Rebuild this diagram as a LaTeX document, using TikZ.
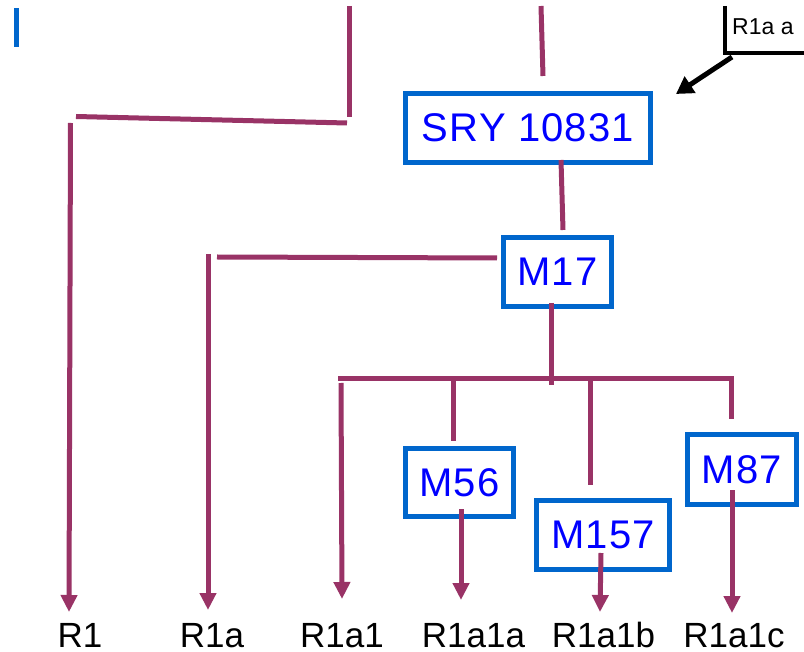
\documentclass[tikz,border=0pt]{standalone}
\usepackage{fontspec}
\setmainfont{Liberation Sans}
\newfontfamily\boxfont[LetterSpace=3]{Liberation Sans}
\usetikzlibrary{arrows.meta}
\definecolor{plum}{HTML}{993366}
\definecolor{boxblue}{HTML}{0066CC}
\definecolor{txtblue}{HTML}{0000FF}
\begin{document}
\begin{tikzpicture}[x=1pt,y=-1pt,
  mbox/.style={draw=boxblue, line width=5pt, fill=white, text=txtblue,
    font=\boxfont\fontsize{40}{46}\selectfont, inner sep=0pt, anchor=center},
  conn/.style={draw=plum, line width=5pt},
  arr/.style={conn, -{Triangle[width=16pt,length=17pt]}},
  lab/.style={font=\fontsize{35}{40}\selectfont, inner sep=0pt, anchor=base},
  blk/.style={draw=black, line width=5pt}]
\useasboundingbox (0,0) rectangle (804,652);
\clip (0,0) rectangle (804,652);

% blue bar at left
\fill[boxblue] (14,8) rectangle (19,47);

% boxes
\node[mbox, minimum width=245pt, minimum height=69pt] (sry) at (528,128) {SRY 10831};
\node[mbox, minimum width=108pt, minimum height=69pt] (m17) at (557.5,272) {M17};
\node[mbox, minimum width=108pt, minimum height=68pt] (m56) at (459.5,482.5) {M56};
\node[mbox, minimum width=133pt, minimum height=69pt] (m157) at (603,535) {M157};
\node[mbox, minimum width=109pt, minimum height=70pt] (m87) at (742,469.5) {M87};

% labels
\node[lab] (r1) at (80,647) {R1};
\node[lab] (r1a) at (212,647) {R1a};
\node[lab] (r1a1) at (342,647) {R1a1};
\node[lab] (r1a1a) at (473.5,647) {R1a1a};
\node[lab] (r1a1b) at (603.5,647) {R1a1b};
\node[lab] (r1a1c) at (734,647) {R1a1c};

% top right callout
\coordinate (ct) at (725,6);
\coordinate (cc) at (725,53);
\coordinate (cr) at (806,53);
\draw[blk, line width=4pt, line join=miter] (ct) -- (cc) -- (cr);
\node[anchor=base west, inner sep=0pt, font=\fontsize{23}{28}\selectfont] (callout) at (732,35) {R1a a};
\coordinate (ca) at (732,57);
\coordinate (cb) at (676,94);
\draw[blk, -{Triangle[width=19pt,length=17pt]}] (ca) -- (cb);

% coordinates for connectors
\coordinate (tl1) at (349,6);
\coordinate (tl2) at (349,117);
\coordinate (h1a) at (76,116.5);
\coordinate (h1b) at (347,123);
\coordinate (v1a) at (70.5,123);
\coordinate (v1b) at (69,612);
\coordinate (tc1) at (541,6);
\coordinate (tc2) at (543,76);
\coordinate (s1) at (561,160);
\coordinate (s2) at (563,230);
\coordinate (h2a) at (217,257);
\coordinate (h2b) at (497,258);
\coordinate (v2a) at (208,254);
\coordinate (v2b) at (208,610);
\coordinate (m1) at (551,303);
\coordinate (m2) at (551,385);
\coordinate (h3a) at (338,379);
\coordinate (h3b) at (734,379);
\coordinate (d1a) at (341,383);
\coordinate (d1b) at (342,599);
\coordinate (d2a) at (453,380);
\coordinate (d2b) at (453,441);
\coordinate (e2a) at (461,509);
\coordinate (e2b) at (461,600);
\coordinate (d3a) at (590,380);
\coordinate (d3b) at (590,485);
\coordinate (e3a) at (601,553);
\coordinate (e3b) at (600,612);
\coordinate (d4a) at (731,377);
\coordinate (d4b) at (731,419);
\coordinate (e4a) at (732,490);
\coordinate (e4b) at (732,613);

% connectors
\draw[conn] (tl1) -- (tl2);
\draw[conn] (h1a) -- (h1b);
\draw[arr] (v1a) -- (v1b);
\draw[conn] (tc1) -- (tc2);
\draw[conn] (s1) -- (s2);
\draw[conn] (h2a) -- (h2b);
\draw[arr] (v2a) -- (v2b);
\draw[conn] (m1) -- (m2);
\draw[conn] (h3a) -- (h3b);
\draw[arr] (d1a) -- (d1b);
\draw[conn] (d2a) -- (d2b);
\draw[arr] (e2a) -- (e2b);
\draw[conn] (d3a) -- (d3b);
\draw[arr] (e3a) -- (e3b);
\draw[conn] (d4a) -- (d4b);
\draw[arr] (e4a) -- (e4b);
\end{tikzpicture}
\end{document}
